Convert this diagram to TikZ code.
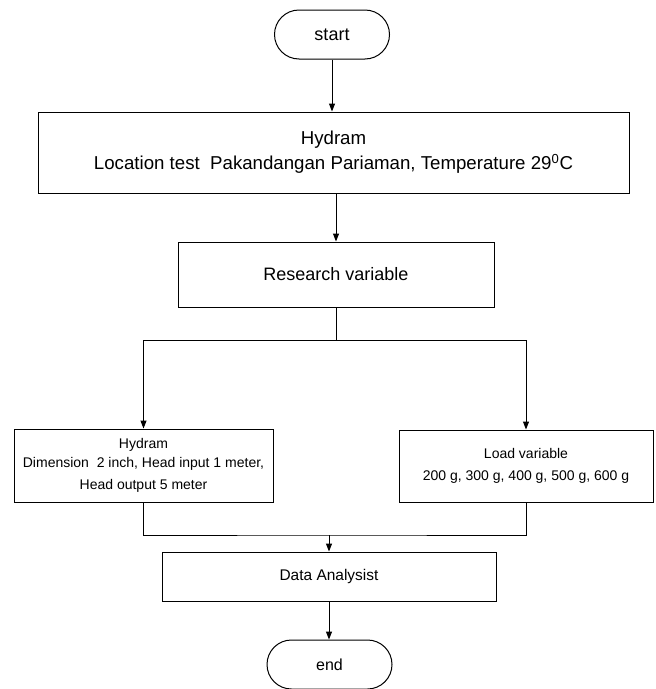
\documentclass[tikz,border=0pt]{standalone}
\usepackage{fontspec}
\setmainfont{Liberation Sans}
\usetikzlibrary{arrows.meta,shapes.misc,positioning}

\begin{document}
\begin{tikzpicture}[x=0.75pt,y=-0.75pt,->,>={Triangle[length=6pt,width=4.5pt]},
                    line width=0.75pt,font=\fontsize{13.5}{18.5}\selectfont]
  \tikzstyle{terminal}=[rounded rectangle,draw=black,fill=white,inner sep=0pt,
                        minimum height=36.75pt]
  \tikzstyle{process}=[rectangle,draw=black,fill=white,align=center,inner sep=0pt]
  \tikzstyle{small}=[font=\fontsize{10.5}{16.5}\selectfont]

  \useasboundingbox (0,0) rectangle (656,689);

  \node[terminal,minimum width=86.25pt] (start) at (332,34.5) {start};
  \node[process,font=\fontsize{14}{19}\selectfont,minimum width=443.25pt,
        minimum height=60.75pt] (hydram) at (333.5,152.5)
       {Hydram\\Location test\ \ Pakandangan Pariaman, Temperature 29\textsuperscript{0}C};
  \node[process,minimum width=237pt,minimum height=48.75pt] (research) at (336,274.5)
       {Research variable};
  \node[process,small,minimum width=194.25pt,minimum height=54.75pt] (hydramvar) at (143.5,465.5)
       {\raisebox{-2pt}{Hydram}\\Dimension\ \ 2 inch, Head input 1 meter,\\Head output 5 meter};
  \node[process,small,minimum width=190.5pt,minimum height=54pt] (loadvar) at (526,466)
       {Load variable\\200 g, 300 g, 400 g, 500 g, 600 g};
  \node[process,font=\fontsize{11.6}{14}\selectfont,minimum width=250.5pt,
        minimum height=36.75pt] (data) at (329,576.5) {Data Analysist};
  \node[terminal,font=\fontsize{12}{14}\selectfont,minimum width=93.75pt] (end) at (329.5,664.5) {end};

  \coordinate (split) at (336,340);
  \coordinate (join) at (329,535);

  \path (start.south) edge (start.south |- hydram.north)
        (hydram.south -| research.north) edge (research.north);
  \draw[-] (research.south) -- (split);
  \draw (split) -| (hydramvar.north);
  \draw (split) -| (loadvar.north);
  \draw[-] (hydramvar.south) |- (join) -| (loadvar.south);
  \path (join) edge (join |- data.north)
        (data.south) edge (data.south |- end.north);

\end{tikzpicture}
\end{document}
